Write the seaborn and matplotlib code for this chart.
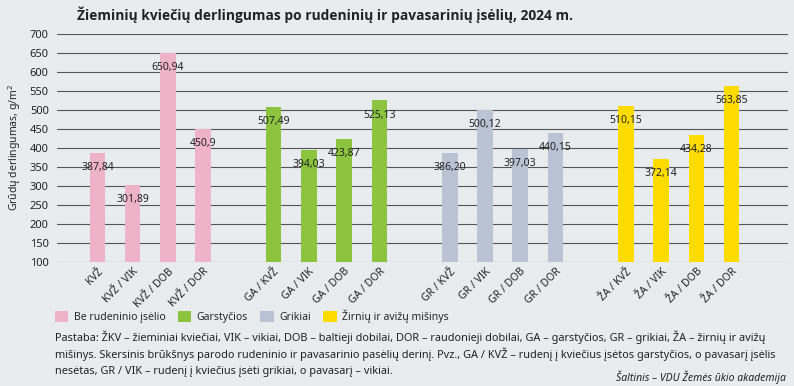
import pandas as pd
import seaborn as sns
import matplotlib.pyplot as plt
from matplotlib.patches import Patch

# data
groups = ['Be rudeninio įsėlio', 'Garstyčios', 'Grikiai', 'Žirnių ir avižų mišinys']
categories = ['KVŽ', 'KVŽ / VIK', 'KVŽ / DOB', 'KVŽ / DOR',
              'GA / KVŽ', 'GA / VIK', 'GA / DOB', 'GA / DOR',
              'GR / KVŽ', 'GR / VIK', 'GR / DOB', 'GR / DOR',
              'ŽA / KVŽ', 'ŽA / VIK', 'ŽA / DOB', 'ŽA / DOR']
values = [387.84, 301.89, 650.94, 450.9,
          507.49, 394.03, 423.87, 525.13,
          386.20, 500.12, 397.03, 440.15,
          510.15, 372.14, 434.28, 563.85]
value_labels = ['387,84', '301,89', '650,94', '450,9',
                '507,49', '394,03', '423,87', '525,13',
                '386,20', '500,12', '397,03', '440,15',
                '510,15', '372,14', '434,28', '563,85']
group_of = [g for g in groups for _ in range(4)]
colors = ['#efb3c8', '#8cc43f', '#b9c3d3', '#ffdc00']

note_lines = [
    'Pastaba: ŽKV – žieminiai kviečiai, VIK – vikiai, DOB – baltieji dobilai, DOR – raudonieji dobilai, '
    'GA – garstyčios, GR – grikiai, ŽA – žirnių ir avižų',
    'mišinys. Skersinis brūkšnys parodo rudeninio ir pavasarinio pasėlių derinį. Pvz., GA / KVŽ – '
    'rudenį į kviečius įsėtos garstyčios, o pavasarį įsėlis',
    'nesėtas, GR / VIK – rudenį į kviečius įsėti grikiai, o pavasarį – vikiai.',
]

bg = '#e9ecef'
sns.set_theme(style='white')
plt.rcParams['font.family'] = ['Noto Sans', 'DejaVu Sans']

df = pd.DataFrame({'cat': categories, 'val': values, 'group': group_of})

# empty slots between the groups
order = categories[0:4] + [' '] + categories[4:8] + ['  '] + categories[8:12] + ['   '] + categories[12:16]

fig = plt.figure(figsize=(7.94, 3.86), dpi=100, facecolor=bg)
ax = fig.add_axes([0.0718, 0.3212, 0.9206, 0.5907], facecolor=bg)

sns.barplot(data=df, x='cat', y='val', hue='group', order=order,
            palette=colors, dodge=False, width=0.44, legend=False,
            saturation=1, linewidth=0, ax=ax, zorder=2)

# value labels just under each bar top
for cat, v, lab in zip(categories, values, value_labels):
    ax.annotate(lab, (order.index(cat), v), xytext=(0, -10.5),
                textcoords='offset points', ha='center', va='center',
                fontsize=7.5, color='#222222', zorder=3)

ax.set_ylim(100, 700)
ax.set_yticks(range(100, 701, 50))
ax.set_xlim(-1.15, 19.6)
ax.yaxis.grid(True, color='#555555', linewidth=0.8, zorder=0)
ax.set_axisbelow(True)
for s in ax.spines.values():
    s.set_visible(False)
ax.tick_params(axis='both', length=0, labelsize=7.5, colors='#222222')
ax.tick_params(axis='y', pad=6, labelsize=8)
ax.tick_params(axis='x', pad=3)
plt.setp(ax.get_xticklabels(), rotation=45, ha='right', rotation_mode='anchor')
ax.set_xlabel('')
ax.set_ylabel('')

fig.text(0.097, 0.962, 'Žieminių kviečių derlingumas po rudeninių ir pavasarinių įsėlių, 2024 m.',
         fontsize=9.9, fontweight='bold', va='center', ha='left', color='#222222',
         family=['Open Sans', 'DejaVu Sans'])
fig.text(0.019, 0.617, 'Grūdų derlingumas, g/m$^2$', rotation=90, fontsize=7.5,
         va='center', ha='center', color='#222222')

handles = [Patch(facecolor=c, edgecolor='none') for c in colors]
fig.legend(handles, groups, loc='center left', bbox_to_anchor=(0.069, 0.18),
           ncol=4, frameon=False, fontsize=7.5, handlelength=1.3, handleheight=1.3,
           handletextpad=0.5, columnspacing=1.2, borderpad=0, borderaxespad=0)

for i, line in enumerate(note_lines):
    fig.text(0.069, 0.126 - i * 0.044, line, fontsize=7.9, va='center', ha='left', color='#222222')
fig.text(0.99, 0.022, 'Šaltinis – VDU Žemės ūkio akademija', fontsize=7.5, style='italic',
         ha='right', va='center', color='#222222')

fig.savefig('out.png', dpi=100, facecolor=bg)
